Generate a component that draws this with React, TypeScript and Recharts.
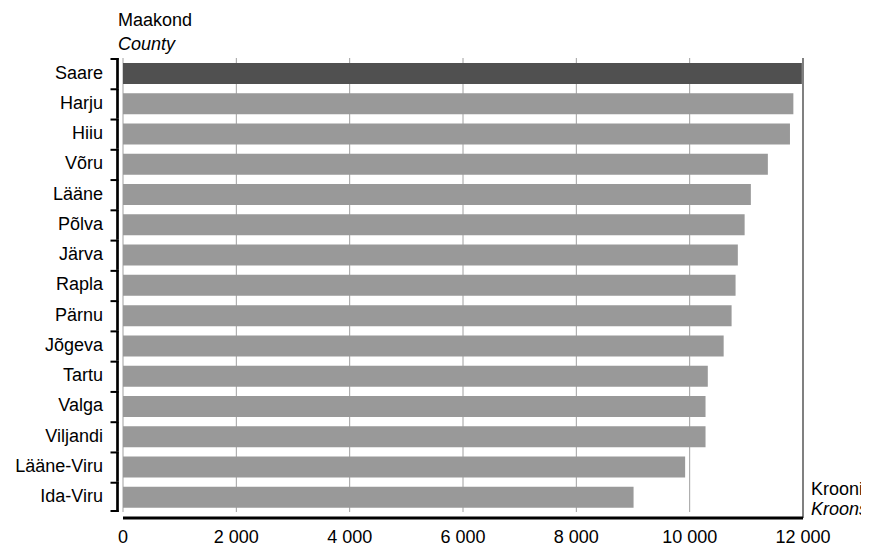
import { BarChart, Bar, XAxis, YAxis, CartesianGrid, ReferenceLine, Cell } from 'recharts';

const counties = [
  'Saare', 'Harju', 'Hiiu', 'Võru', 'Lääne', 'Põlva', 'Järva', 'Rapla',
  'Pärnu', 'Jõgeva', 'Tartu', 'Valga', 'Viljandi', 'Lääne-Viru', 'Ida-Viru',
];
const wages = [
  11980, 11830, 11770, 11380, 11080, 10970, 10850, 10810,
  10740, 10600, 10320, 10280, 10280, 9920, 9010,
];
const xTicks = [0, 2000, 4000, 6000, 8000, 10000, 12000];
const highlight = 'Saare';

const data = counties.map((county, i) => ({ county, value: wages[i] }));

const FONT = '"Liberation Sans", Arial, sans-serif';
const W = 861;
const H = 540;
const TOP = 50;
const PLOT_BOTTOM = 504;
const HALF = (PLOT_BOTTOM - TOP) / counties.length / 2;

const fmt = (v: number) => String(v).replace(/\B(?=(\d{3})+(?!\d))/g, ' ');

function CountyTick(props: any) {
  const { x, y, payload, index } = props;
  const top = y - HALF;
  const bottom = y + HALF;
  const last = index === counties.length - 1;
  return (
    <g>
      <text x={x - 20} y={y} dy="0.3em" textAnchor="end" fontSize={18} fontFamily={FONT} fill="#000">
        {payload.value}
      </text>
      <line x1={x - 5.5} x2={x - 5.5} y1={top} y2={bottom} stroke="#000" strokeWidth={2.7} />
      <line x1={x - 12.5} x2={x - 4.5} y1={top + 1} y2={top + 1} stroke="#000" strokeWidth={2} />
      {last && <line x1={x - 12.5} x2={x - 4.5} y1={bottom - 1} y2={bottom - 1} stroke="#000" strokeWidth={2} />}
    </g>
  );
}

export default function App() {
  return (
    <div style={{ width: W, height: H, fontFamily: FONT }}>
      <BarChart
        width={W}
        height={H}
        data={data}
        layout="vertical"
        margin={{ top: TOP, right: 66, left: 0, bottom: 0 }}
      >
        <CartesianGrid horizontal={false} stroke="#a0a0a0" y={TOP} height={PLOT_BOTTOM - TOP} />
        <XAxis
          type="number"
          domain={[0, 12000]}
          ticks={xTicks}
          tickFormatter={fmt}
          axisLine={{ stroke: '#000', strokeWidth: 3 }}
          tickLine={false}
          tickSize={0}
          tickMargin={12}
          height={30}
          tick={{ fontSize: 18, fill: '#000', fontFamily: FONT }}
        />
        <YAxis
          type="category"
          dataKey="county"
          width={115}
          axisLine={false}
          tickLine={false}
          tickSize={0}
          tickMargin={0}
          padding={{ top: 0, bottom: 6 }}
          interval={0}
          tick={<CountyTick />}
        />
        <ReferenceLine x={12000} stroke="#808080" strokeWidth={2} />
        <Bar dataKey="value" barSize={21} isAnimationActive={false}>
          {data.map((d) => (
            <Cell key={d.county} fill={d.county === highlight ? '#505050' : '#999999'} />
          ))}
        </Bar>
        <text x={110} y={18} fontSize={18} fontFamily={FONT} fill="#000">Maakond</text>
        <text x={110} y={41.5} fontSize={18} fontFamily={FONT} fontStyle="italic" fill="#000">County</text>
        <text x={803} y={487} fontSize={18} fontFamily={FONT} fill="#000">Krooni</text>
        <text x={803} y={507} fontSize={18} fontFamily={FONT} fontStyle="italic" fill="#000">Kroons</text>
      </BarChart>
    </div>
  );
}
